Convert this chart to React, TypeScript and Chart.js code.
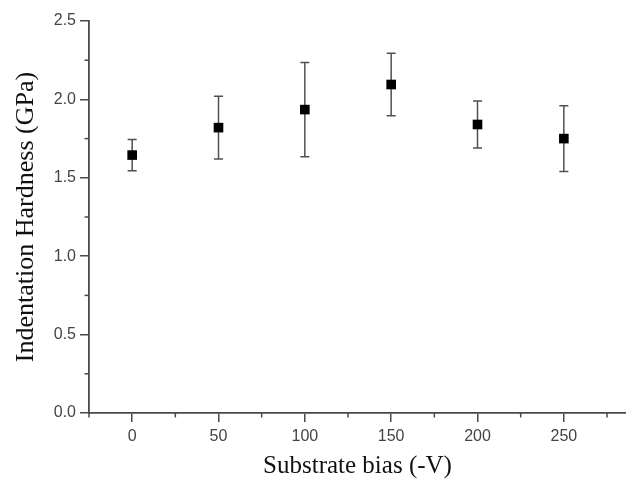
import React, { useEffect, useRef } from "react";
import { Chart, registerables } from "chart.js";

Chart.register(...registerables);

const biasValues = [0, 50, 100, 150, 200, 250];
const hardnessValues = [1.645, 1.82, 1.935, 2.095, 1.84, 1.75];
const hardnessErrors = [0.1, 0.2, 0.3, 0.2, 0.15, 0.21];
const xTickValues = [-25, 0, 25, 50, 75, 100, 125, 150, 175, 200, 225, 250, 275];
const yTickValues = [0, 0.25, 0.5, 0.75, 1, 1.25, 1.5, 1.75, 2, 2.25, 2.5];
const xTitle = "Substrate bias (-V)";
const yTitle = "Indentation Hardness (GPa)";

const AXIS_COLOR = "#4a4a4a";
const LABEL_COLOR = "#444";

const isMultiple = (v: number, step: number) =>
  Math.abs(v / step - Math.round(v / step)) < 1e-6;

const extrasPlugin = {
  id: "extras",
  afterDatasetsDraw(chart: any) {
    const { ctx, scales } = chart;
    const xs = scales.x;
    const ys = scales.y;
    ctx.save();
    ctx.strokeStyle = AXIS_COLOR;
    ctx.lineWidth = 1.5;
    const minorLen = 4.5;
    xs.ticks.forEach((t: any) => {
      if (isMultiple(t.value, 50)) return;
      const px = xs.getPixelForValue(t.value);
      ctx.beginPath();
      ctx.moveTo(px, ys.bottom);
      ctx.lineTo(px, ys.bottom + minorLen);
      ctx.stroke();
    });
    ys.ticks.forEach((t: any) => {
      if (isMultiple(t.value, 0.5)) return;
      const py = ys.getPixelForValue(t.value);
      ctx.beginPath();
      ctx.moveTo(xs.left, py);
      ctx.lineTo(xs.left - minorLen, py);
      ctx.stroke();
    });
    ctx.restore();
  },
  beforeDatasetsDraw(chart: any) {
    const { ctx, scales } = chart;
    const xs = scales.x;
    const ys = scales.y;
    ctx.save();
    ctx.strokeStyle = "#505050";
    ctx.lineWidth = 1.5;
    const cap = 4.5;
    biasValues.forEach((b, i) => {
      const px = xs.getPixelForValue(b);
      const top = ys.getPixelForValue(hardnessValues[i] + hardnessErrors[i]);
      const bot = ys.getPixelForValue(hardnessValues[i] - hardnessErrors[i]);
      ctx.beginPath();
      ctx.moveTo(px, top);
      ctx.lineTo(px, bot);
      ctx.moveTo(px - cap, top);
      ctx.lineTo(px + cap, top);
      ctx.moveTo(px - cap, bot);
      ctx.lineTo(px + cap, bot);
      ctx.stroke();
    });
    ctx.restore();
  },
};

export default function App() {
  const canvasRef = useRef<HTMLCanvasElement | null>(null);

  useEffect(() => {
    if (!canvasRef.current) return;
    const chart = new Chart(canvasRef.current, {
      type: "scatter",
      data: {
        datasets: [
          {
            label: "Hardness",
            data: biasValues.map((b, i) => ({ x: b, y: hardnessValues[i] })),
            pointStyle: "rect",
            pointRadius: 6.8,
            pointHoverRadius: 6.8,
            backgroundColor: "#000",
            borderColor: "#000",
            borderWidth: 0,
            showLine: false,
          },
        ],
      },
      options: {
        responsive: false,
        animation: false,
        events: [],
        layout: { autoPadding: false, padding: { top: 21, right: 0, left: 0, bottom: 0 } },
        plugins: {
          legend: { display: false },
          tooltip: { enabled: false },
        },
        scales: {
          x: {
            type: "linear",
            min: -25,
            max: 286,
            afterBuildTicks: (axis: any) => {
              axis.ticks = xTickValues.map((v) => ({ value: v }));
            },
            afterFit: (axis: any) => {
              axis.height = 72;
              axis.paddingRight = 0;
              axis.paddingLeft = 0;
            },
            grid: {
              drawOnChartArea: false,
              drawTicks: true,
              tickLength: 9,
              lineWidth: 1.5,
              color: (c: any) =>
                c.tick && isMultiple(c.tick.value, 50) ? AXIS_COLOR : "rgba(0,0,0,0)",
            },
            border: { display: true, color: AXIS_COLOR, width: 1.8 },
            ticks: {
              autoSkip: false,
              maxRotation: 0,
              padding: 5,
              color: LABEL_COLOR,
              font: { family: "'Liberation Sans', Arial, sans-serif", size: 16 },
              callback: (v: any) => (isMultiple(Number(v), 50) ? String(v) : ""),
            },
            title: {
              display: true,
              text: xTitle,
              color: "#111",
              font: { family: "'Liberation Serif', 'Times New Roman', serif", size: 25, weight: "normal" },
              padding: { top: 0, bottom: 4 },
            },
          },
          y: {
            type: "linear",
            min: 0,
            max: 2.5,
            afterBuildTicks: (axis: any) => {
              axis.ticks = yTickValues.map((v) => ({ value: v }));
            },
            afterFit: (axis: any) => {
              axis.width = 89;
            },
            grid: {
              drawOnChartArea: false,
              drawTicks: true,
              tickLength: 9,
              lineWidth: 1.5,
              color: (c: any) =>
                c.tick && isMultiple(c.tick.value, 0.5) ? AXIS_COLOR : "rgba(0,0,0,0)",
            },
            border: { display: true, color: AXIS_COLOR, width: 1.8 },
            ticks: {
              autoSkip: false,
              padding: 4,
              color: LABEL_COLOR,
              font: { family: "'Liberation Sans', Arial, sans-serif", size: 16 },
              callback: (v: any) => (isMultiple(Number(v), 0.5) ? Number(v).toFixed(1) : ""),
            },
            title: {
              display: true,
              text: yTitle,
              color: "#111",
              font: { family: "'Liberation Serif', 'Times New Roman', serif", size: 26, weight: "normal" },
              padding: { top: 11, bottom: 0 },
            },
          },
        },
      },
      plugins: [extrasPlugin],
    });
    return () => chart.destroy();
  }, []);

  return (
    <div style={{ position: "absolute", left: 0, top: 0, width: 626, height: 485, background: "#fff" }}>
      <canvas ref={canvasRef} width={626} height={485} style={{ display: "block" }} />
    </div>
  );
}
